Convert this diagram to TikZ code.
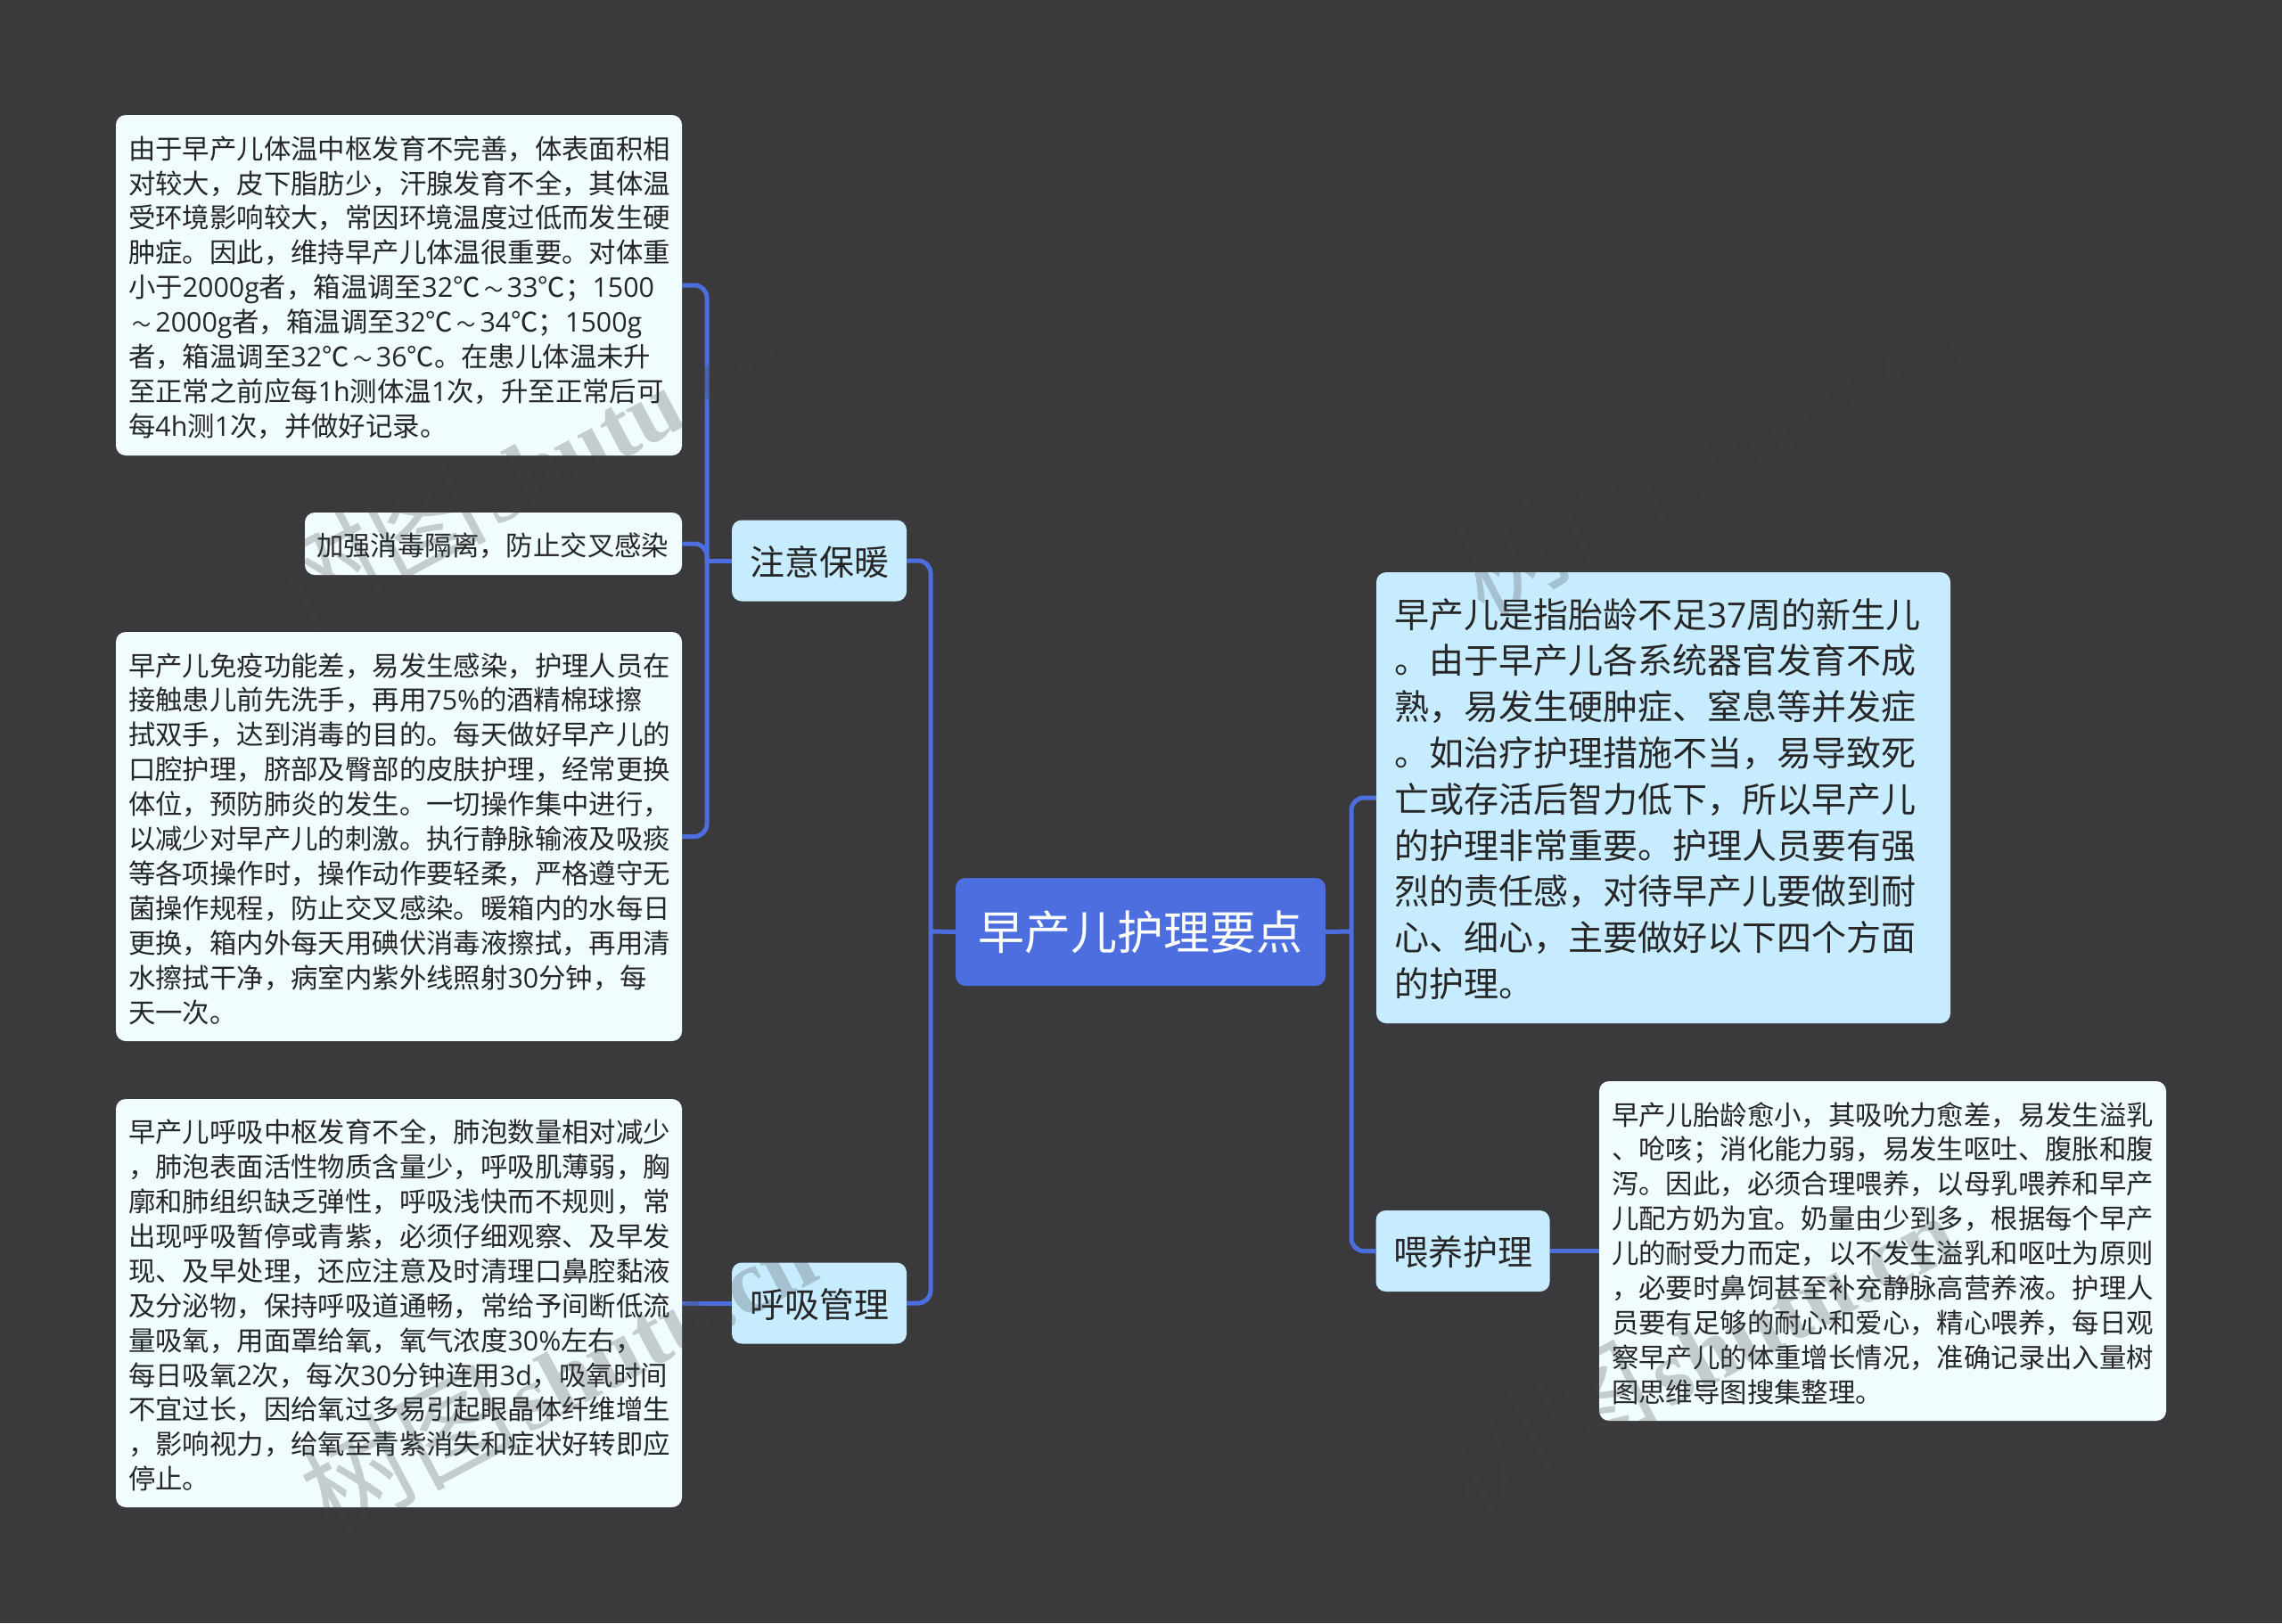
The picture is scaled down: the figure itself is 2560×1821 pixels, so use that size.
\documentclass[tikz,border=0pt]{standalone}
\usepackage{fontspec}
\setmainfont{Noto Sans CJK SC}
\newfontfamily\wmlatin{Liberation Serif}[Scale=0.84]
\newfontfamily\latfont{Open Sans}
\newcommand\ltn[1]{{\latfont #1}}
\newcommand\swung{\makebox[1em]{\scalebox{0.7}[0.75]{～}}}
\definecolor{bgc}{HTML}{3A393B}
\definecolor{linec}{HTML}{4C6EDF}
\definecolor{leafc}{HTML}{F0FCFF}
\definecolor{branchc}{HTML}{C7ECFF}
\definecolor{inkc}{HTML}{262626}
\definecolor{wmc}{HTML}{404242}
\tikzset{
  anybox/.style={rectangle,rounded corners=11pt,inner sep=0pt,outer sep=0pt,align=left,text=inkc},
  leaf/.style={anybox,fill=leafc,font=\fontsize{30.4}{38.9}\selectfont,execute at begin node={\par\nointerlineskip\vskip 5pt}},
  branch/.style={anybox,fill=branchc,align=center,minimum width=196pt,minimum height=91pt,text width=190pt,font=\fontsize{39}{52}\selectfont,execute at begin node={\par\nointerlineskip\vskip 3pt}},
  intro/.style={anybox,fill=branchc,font=\fontsize{39}{51.8}\selectfont,execute at begin node={\par\nointerlineskip\vskip 3pt}},
  rootbox/.style={rectangle,rounded corners=11pt,inner sep=0pt,fill=linec,align=center,text=white,font=\fontsize{52}{60}\selectfont},
  conn/.style={draw=linec,line width=5pt,rounded corners=14pt},
  wmark/.style={rotate=28,anchor=west,inner sep=0pt,text=wmc,opacity=0.25,font=\fontsize{122}{130}\selectfont}
}
\newcommand\wmtext{树图\hspace{8pt}{\wmlatin\bfseries shutu.cn}}
\begin{document}
\begin{tikzpicture}[x=1pt,y=-1pt]
\fill[bgc] (0,0) rectangle (2560,1821);
\useasboundingbox (0,0) rectangle (2560,1821);
\coordinate (tl) at (1044,1045);
\coordinate (ts) at (793,629);
\coordinate (tr) at (1516,1045);
\node[rootbox,minimum width=415pt,minimum height=121pt] (root) at (1279.5,1045.5) {早产儿护理要点};
\node[branch] (b1) at (919,629) {注意保暖};
\node[branch] (b2) at (919,1462) {呼吸管理};
\node[branch,minimum width=195pt] (b3) at (1641,1403.5) {喂养护理};
\node[leaf,minimum width=635pt,minimum height=382pt,text width=607pt] (l1) at (447.5,320) {%
由于早产儿体温中枢发育不完善，体表面积相\\
对较大，皮下脂肪少，汗腺发育不全，其体温\\
受环境影响较大，常因环境温度过低而发生硬\\
肿症。因此，维持早产儿体温很重要。对体重\\
小于\ltn{2000g}者，箱温调至\ltn{32}℃\swung\ltn{33}℃；\ltn{1500}\\
\swung\ltn{2000g}者，箱温调至\ltn{32}℃\swung\ltn{34}℃；\ltn{1500g}\\
者，箱温调至\ltn{32}℃\swung\ltn{36}℃。在患儿体温未升\\
至正常之前应每\ltn{1h}测体温\ltn{1}次，升至正常后可\\
每\ltn{4h}测\ltn{1}次，并做好记录。};
\node[leaf,minimum width=423pt,minimum height=70pt,text width=397pt] (l2) at (553.5,610) {加强消毒隔离，防止交叉感染};
\node[leaf,minimum width=635pt,minimum height=459pt,text width=607pt] (l3) at (447.5,938.5) {%
早产儿免疫功能差，易发生感染，护理人员在\\
接触患儿前先洗手，再用\ltn{75\%}的酒精棉球擦\\
拭双手，达到消毒的目的。每天做好早产儿的\\
口腔护理，脐部及臀部的皮肤护理，经常更换\\
体位，预防肺炎的发生。一切操作集中进行，\\
以减少对早产儿的刺激。执行静脉输液及吸痰\\
等各项操作时，操作动作要轻柔，严格遵守无\\
菌操作规程，防止交叉感染。暖箱内的水每日\\
更换，箱内外每天用碘伏消毒液擦拭，再用清\\
水擦拭干净，病室内紫外线照射\ltn{30}分钟，每\\
天一次。};
\node[leaf,minimum width=635pt,minimum height=458pt,text width=607pt] (l4) at (447.5,1462) {%
早产儿呼吸中枢发育不全，肺泡数量相对减少\\
，肺泡表面活性物质含量少，呼吸肌薄弱，胸\\
廓和肺组织缺乏弹性，呼吸浅快而不规则，常\\
出现呼吸暂停或青紫，必须仔细观察、及早发\\
现、及早处理，还应注意及时清理口鼻腔黏液\\
及分泌物，保持呼吸道通畅，常给予间断低流\\
量吸氧，用面罩给氧，氧气浓度\ltn{30\%}左右，\\
每日吸氧\ltn{2}次，每次\ltn{30}分钟连用\ltn{3d}，吸氧时间\\
不宜过长，因给氧过多易引起眼晶体纤维增生\\
，影响视力，给氧至青紫消失和症状好转即应\\
停止。};
\node[intro,minimum width=644pt,minimum height=506pt,text width=604pt] (big) at (1866,895) {%
早产儿是指胎龄不足\ltn{37}周的新生儿\\
。由于早产儿各系统器官发育不成\\
熟，易发生硬肿症、窒息等并发症\\
。如治疗护理措施不当，易导致死\\
亡或存活后智力低下，所以早产儿\\
的护理非常重要。护理人员要有强\\
烈的责任感，对待早产儿要做到耐\\
心、细心，主要做好以下四个方面\\
的护理。};
\node[leaf,minimum width=636pt,minimum height=381pt,text width=608pt] (l5) at (2112,1403.5) {%
早产儿胎龄愈小，其吸吮力愈差，易发生溢乳\\
、呛咳；消化能力弱，易发生呕吐、腹胀和腹\\
泻。因此，必须合理喂养，以母乳喂养和早产\\
儿配方奶为宜。奶量由少到多，根据每个早产\\
儿的耐受力而定，以不发生溢乳和呕吐为原则\\
，必要时鼻饲甚至补充静脉高营养液。护理人\\
员要有足够的耐心和爱心，精心喂养，每日观\\
察早产儿的体重增长情况，准确记录出入量树\\
图思维导图搜集整理。};
\draw[conn] (b1.east) -| (tl) |- (b2.east);
\draw[conn] (root.west) -- (tl);
\draw[conn] (root.east) -- (tr);
\draw[conn] (big.west) -| (tr) |- (b3.west);
\draw[conn] (b1.west) -- (ts);
\draw[conn] (l1.east) -| (ts);
\draw[conn] (l2.east) -| (ts);
\draw[conn] (l3.east) -| (ts);
\draw[conn] (b2.west) -- (l4.east);
\draw[conn] (b3.east) -- (l5.west);
\node[wmark] (w1) at (313,668) {\wmtext};
\node[wmark] (w2) at (1643,653) {\wmtext};
\node[wmark] (w3) at (1628,1658) {\wmtext};
\node[wmark] (w4) at (349,1686) {\wmtext};
\end{tikzpicture}
\end{document}
